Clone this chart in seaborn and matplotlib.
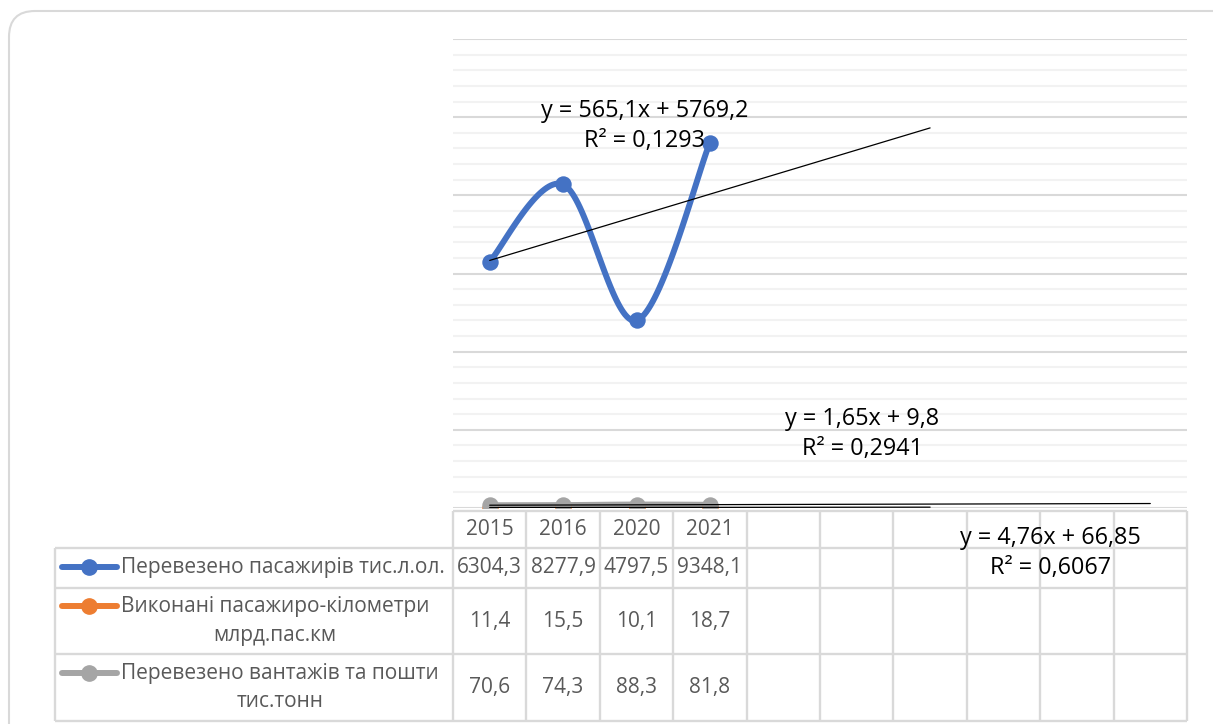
import numpy as np
import pandas as pd
import matplotlib
matplotlib.use("Agg")
import matplotlib.pyplot as plt
import seaborn as sns
from matplotlib.patches import FancyBboxPatch

years = ["2015", "2016", "2020", "2021"]
passengers = [6304.3, 8277.9, 4797.5, 9348.1]
pass_km = [11.4, 15.5, 10.1, 18.7]
cargo = [70.6, 74.3, 88.3, 81.8]
series_names = [
    "Перевезено пасажирів тис.л.ол.",
    "Виконані пасажиро-кілометри\nмлрд.пас.км",
    "Перевезено вантажів та пошти\nтис.тонн",
]
trend_labels = [
    "y = 565,1x + 5769,2\nR² = 0,1293",
    "y = 1,65x + 9,8\nR² = 0,2941",
    "y = 4,76x + 66,85\nR² = 0,6067",
]
colors = ["#4472C4", "#ED7D31", "#A5A5A5"]

W, H = 1213, 724
# plot area in pixels
PX0, PX1, PY0, PY1 = 453, 1187, 39, 508
NCAT = 10
COLW = (PX1 - PX0) / NCAT
TXT = "#595959"
GRID = "#d9d9d9"


def smooth(x, y, n=40):
    # catmull-rom, roughly like Excel's "smoothed line"
    pts = np.column_stack([x, y]).astype(float)
    P = np.vstack([pts[0], pts, pts[-1]])
    out = []
    t = np.linspace(0, 1, n)[:, None]
    for i in range(len(pts) - 1):
        p0, p1, p2, p3 = P[i], P[i + 1], P[i + 2], P[i + 3]
        seg = 0.5 * (2 * p1 + (-p0 + p2) * t + (2 * p0 - 5 * p1 + 4 * p2 - p3) * t ** 2
                     + (-p0 + 3 * p1 - 3 * p2 + p3) * t ** 3)
        out.append(seg if i == 0 else seg[1:])
    return np.vstack(out)


sns.set_theme(style="white")
plt.rcParams["font.family"] = ["Open Sans", "DejaVu Sans"]

fig = plt.figure(figsize=(W / 100, H / 100), dpi=100)
ax = fig.add_axes([PX0 / W, 1 - PY1 / H, (PX1 - PX0) / W, (PY1 - PY0) / H])
ax.set_xlim(0.5, NCAT + 0.5)
ax.set_ylim(0, 12000)
ax.set_yticks(np.arange(0, 12001, 2000))
ax.set_yticks(np.arange(0, 12001, 400), minor=True)
ax.grid(True, which="major", axis="y", color=GRID, lw=1.5, zorder=0)
ax.grid(True, which="minor", axis="y", color="#f2f2f2", lw=1.5, zorder=0)
ax.tick_params(which="both", length=0, labelleft=False, labelbottom=False)
for s in ax.spines.values():
    s.set_visible(False)

xs = np.arange(1, len(years) + 1)
all_series = [passengers, pass_km, cargo]
for vals, c in zip(all_series, colors):
    sm = smooth(xs, vals)
    df = pd.DataFrame({"x": sm[:, 0], "y": sm[:, 1]})
    sns.lineplot(data=df, x="x", y="y", sort=False, color=c, lw=4.3, ax=ax,
                 zorder=3, solid_capstyle="round")
    sns.scatterplot(x=xs, y=vals, color=c, s=140, edgecolor=c, linewidth=0,
                    ax=ax, zorder=4)

# linear trendlines with forward forecast
trend_end = [7, 7, 10]
for vals, xe in zip(all_series, trend_end):
    k, b = np.polyfit(xs, vals, 1)
    tx = np.array([1, xe])
    ax.plot(tx, k * tx + b, color="black", lw=0.9, zorder=5)
ax.set_xlabel("")
ax.set_ylabel("")

# overlay in pixel coords for data table, labels, border
ov = fig.add_axes([0, 0, 1, 1], zorder=10)
ov.set_xlim(0, W)
ov.set_ylim(H, 0)
ov.axis("off")
ov.patch.set_alpha(0)

ov.add_patch(FancyBboxPatch((9, 11), 1240, 780, boxstyle="round,pad=0,rounding_size=26",
                            fc="none", ec="#d9d9d9", lw=1.5, clip_on=True))

# equation labels
eq_pos = [(645, 126), (862, 434), (1050, 553)]
for lab, (ex, ey) in zip(trend_labels, eq_pos):
    ov.text(ex, ey, lab, ha="center", va="center", fontsize=16.8, color="black",
            linespacing=1.3, multialignment="center")

# data table
row_y = [511, 548, 588, 654, 721]
col_x = [PX0 + i * COLW for i in range(NCAT + 1)]
tkw = dict(color=GRID, lw=1.7, solid_capstyle="butt")
ov.plot([PX0, PX1], [row_y[0], row_y[0]], **tkw)
for yy in row_y[1:]:
    ov.plot([55, PX1], [yy, yy], **tkw)
ov.plot([55, 55], [row_y[1], row_y[-1]], **tkw)
for xx in col_x:
    ov.plot([xx, xx], [row_y[0], row_y[-1]], **tkw)

FS = 15
for i, yr in enumerate(years):
    ov.text(PX0 + (i + 0.5) * COLW, (row_y[0] + row_y[1]) / 2, yr, ha="center",
            va="center", fontsize=FS, color=TXT)

key_y = [567, 606, 673]
for r, (name, vals, c) in enumerate(zip(series_names, all_series, colors)):
    cy = (row_y[r + 1] + row_y[r + 2]) / 2
    for i, v in enumerate(vals):
        ov.text(PX0 + (i + 0.5) * COLW, cy, f"{v:.1f}".replace(".", ","), ha="center",
                va="center", fontsize=FS, color=TXT)
    ov.text(121, cy, name, ha="left", va="center", fontsize=FS, color=TXT,
            linespacing=1.45, multialignment="center")
    ov.plot([62, 117], [key_y[r], key_y[r]], color=c, lw=4.3, solid_capstyle="round")
    ov.plot([89], [key_y[r]], "o", color=c, ms=11)

fig.savefig("out.png", dpi=100)
